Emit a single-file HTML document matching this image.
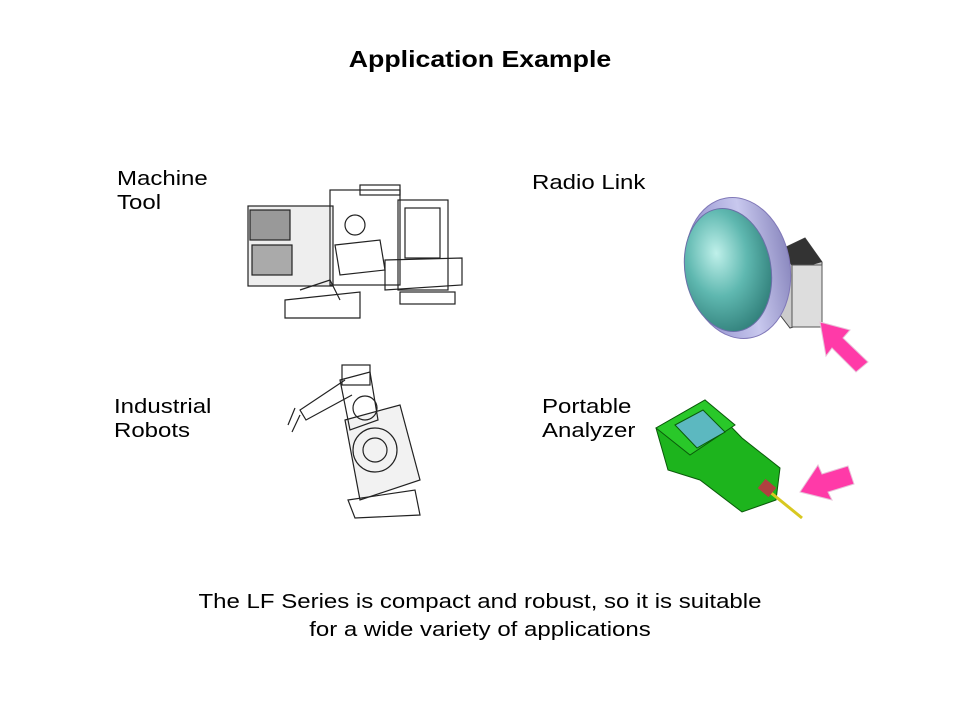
<!DOCTYPE html>
<html><head><meta charset="utf-8"><style>
body{margin:0;width:960px;height:720px;background:#fff;font-family:"Liberation Sans",sans-serif;position:relative;overflow:hidden}
.t{position:absolute;color:#000;font-size:20px;line-height:24px;transform:scaleX(1.2);transform-origin:left top;white-space:nowrap}
.c{transform-origin:center top}
</style></head><body>
<div class="t c" style="left:0;width:960px;top:47px;text-align:center;font-weight:bold;font-size:23px;transform:scaleX(1.16)">Application Example</div>
<div class="t" style="left:117px;top:167px">Machine<br>Tool</div>
<div class="t" style="left:532px;top:171px">Radio Link</div>
<div class="t" style="left:114px;top:395px">Industrial<br>Robots</div>
<div class="t" style="left:542px;top:395px">Portable<br>Analyzer</div>
<div class="t c" style="left:0;width:960px;top:588px;text-align:center;line-height:28px">The LF Series is compact and robust, so it is suitable<br>for a wide variety of applications</div>
<svg width="960" height="720" style="position:absolute;left:0;top:0">
<defs>
<radialGradient id="lens" cx="0.4" cy="0.35" r="0.7"><stop offset="0" stop-color="#bff0ea"/><stop offset="0.5" stop-color="#5fb8b0"/><stop offset="1" stop-color="#2f7d78"/></radialGradient>
<linearGradient id="rim" x1="0" x2="1"><stop offset="0" stop-color="#8a88c8"/><stop offset="0.6" stop-color="#c8c8ee"/><stop offset="1" stop-color="#8c8ac0"/></linearGradient>
</defs>
<!-- machine tool -->
<g stroke="#222" stroke-width="1.2" fill="none">
<rect x="248" y="206" width="85" height="80" fill="#eee"/>
<rect x="330" y="190" width="70" height="95"/>
<rect x="398" y="200" width="50" height="90"/>
<rect x="405" y="208" width="35" height="50"/>
<rect x="250" y="210" width="40" height="30" fill="#999"/>
<rect x="252" y="245" width="40" height="30" fill="#aaa"/>
<rect x="360" y="185" width="40" height="10"/>
<path d="M385 260 L462 258 L462 285 L385 290 Z"/>
<path d="M285 300 L360 292 L360 318 L285 318 Z"/>
<path d="M300 290 L330 280 L340 300"/>
<circle cx="355" cy="225" r="10"/>
<path d="M335 245 L380 240 L385 270 L340 275 Z"/>
<rect x="400" y="292" width="55" height="12"/>
</g>
<!-- robot -->
<g stroke="#222" stroke-width="1.2" fill="none">
<path d="M345 420 L400 405 L420 480 L360 500 Z" fill="#f2f2f2"/>
<circle cx="375" cy="450" r="22"/>
<circle cx="375" cy="450" r="12"/>
<path d="M340 380 L370 372 L378 420 L350 430 Z"/>
<circle cx="365" cy="408" r="12"/>
<path d="M345 380 L300 410 L306 420 L352 395"/>
<path d="M295 408 L288 425 M300 415 L292 432"/>
<path d="M348 500 L415 490 L420 515 L355 518 Z"/>
<rect x="342" y="365" width="28" height="20"/>
</g>
<!-- radio link -->
<polygon points="780,250 805,238 822,262 822,318 790,328 780,315" fill="#ccc" stroke="#444"/>
<polygon points="780,250 805,238 822,262 795,270" fill="#333"/>
<rect x="792" y="265" width="30" height="62" fill="#ddd" stroke="#555"/>
<ellipse cx="738" cy="268" rx="52" ry="71" transform="rotate(-10 738 268)" fill="url(#rim)" stroke="#8078b8"/>
<ellipse cx="728" cy="270" rx="43" ry="62" transform="rotate(-10 728 270)" fill="url(#lens)" stroke="#6a70a8"/>
<polygon points="820,322 850,330 843,338 868,362 856,372 832,348 826,356" fill="#ff3aa8" stroke="#e8c0d8"/>
<!-- analyzer -->
<g stroke="#0a5a0a" stroke-width="1">
<polygon points="656,428 705,400 742,438 780,468 776,500 742,512 700,480 668,470" fill="#1db41d"/>
<polygon points="656,428 705,400 735,425 690,455" fill="#29c829"/>
<polygon points="675,425 703,410 725,432 697,448" fill="#5cb8c0"/>
</g>
<line x1="770" y1="492" x2="802" y2="518" stroke="#d8c820" stroke-width="3"/>
<rect x="760" y="482" width="14" height="12" fill="#b04040" transform="rotate(40 767 488)"/>
<polygon points="800,492 818,465 822,474 848,466 854,484 828,492 832,500" fill="#ff3aa8" stroke="#e8c0d8"/>
</svg>
</body></html>
